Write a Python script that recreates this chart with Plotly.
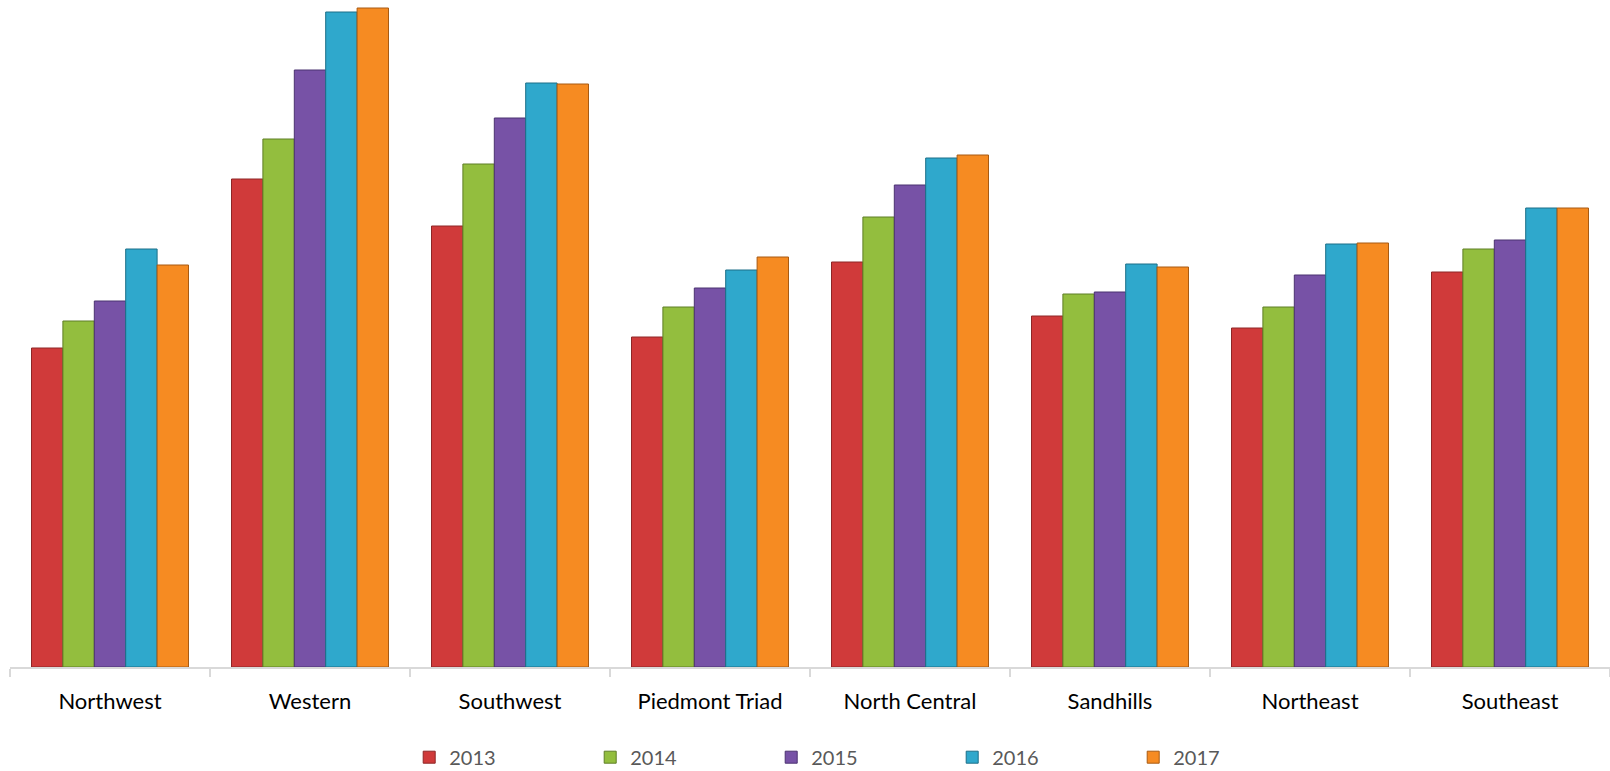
import plotly.graph_objects as go

regions = ["Northwest", "Western", "Southwest", "Piedmont Triad", "North Central",
           "Sandhills", "Northeast", "Southeast"]
years = ["2013", "2014", "2015", "2016", "2017"]

v2013 = [319, 488, 441, 330, 405, 351, 339, 395]
v2014 = [346, 528, 503, 360, 450, 373, 360, 418]
v2015 = [366, 597, 549, 379, 482, 375, 392, 427]
v2016 = [418, 655, 584, 397, 509, 403, 423, 459]
v2017 = [402, 659, 583, 410, 512, 400, 424, 459]

series = [v2013, v2014, v2015, v2016, v2017]
colors = ["#D03A3A", "#93BE3E", "#7752A6", "#2FA8CC", "#F68B22"]
edges = ["#8E2626", "#5F7E26", "#4B3270", "#1C6F88", "#A85A12"]

fig = go.Figure()
for name, vals, c, e in zip(years, series, colors, edges):
    fig.add_trace(go.Bar(
        x=regions, y=vals, name=name,
        marker=dict(color=c, line=dict(color=e, width=1)),
    ))

fig.update_layout(
    width=1610, height=771,
    margin=dict(l=10, r=0, t=0, b=104, autoexpand=False),
    paper_bgcolor="white", plot_bgcolor="white",
    barmode="group", bargap=0.215, bargroupgap=0,
    font=dict(family="Lato, Carlito, sans-serif", color="#000000"),
    showlegend=True,
    legend=dict(
        orientation="h", x=0.2495, xanchor="left", y=-0.106, yanchor="top",
        font=dict(size=20, color="#595959"),
        entrywidth=136, entrywidthmode="pixels",
        bgcolor="rgba(0,0,0,0)", borderwidth=0,
    ),
    xaxis=dict(
        showline=True, linecolor="#D9D9D9", linewidth=2,
        ticks="outside", tickson="boundaries", ticklen=8, tickwidth=2, tickcolor="#D9D9D9",
        tickfont=dict(size=22, color="#000000"), ticklabelstandoff=14,
        showgrid=False, zeroline=False, automargin=False,
    ),
    yaxis=dict(range=[0, 667], visible=False, showgrid=False, zeroline=False,
               automargin=False),
)

fig.write_html("out.html")
